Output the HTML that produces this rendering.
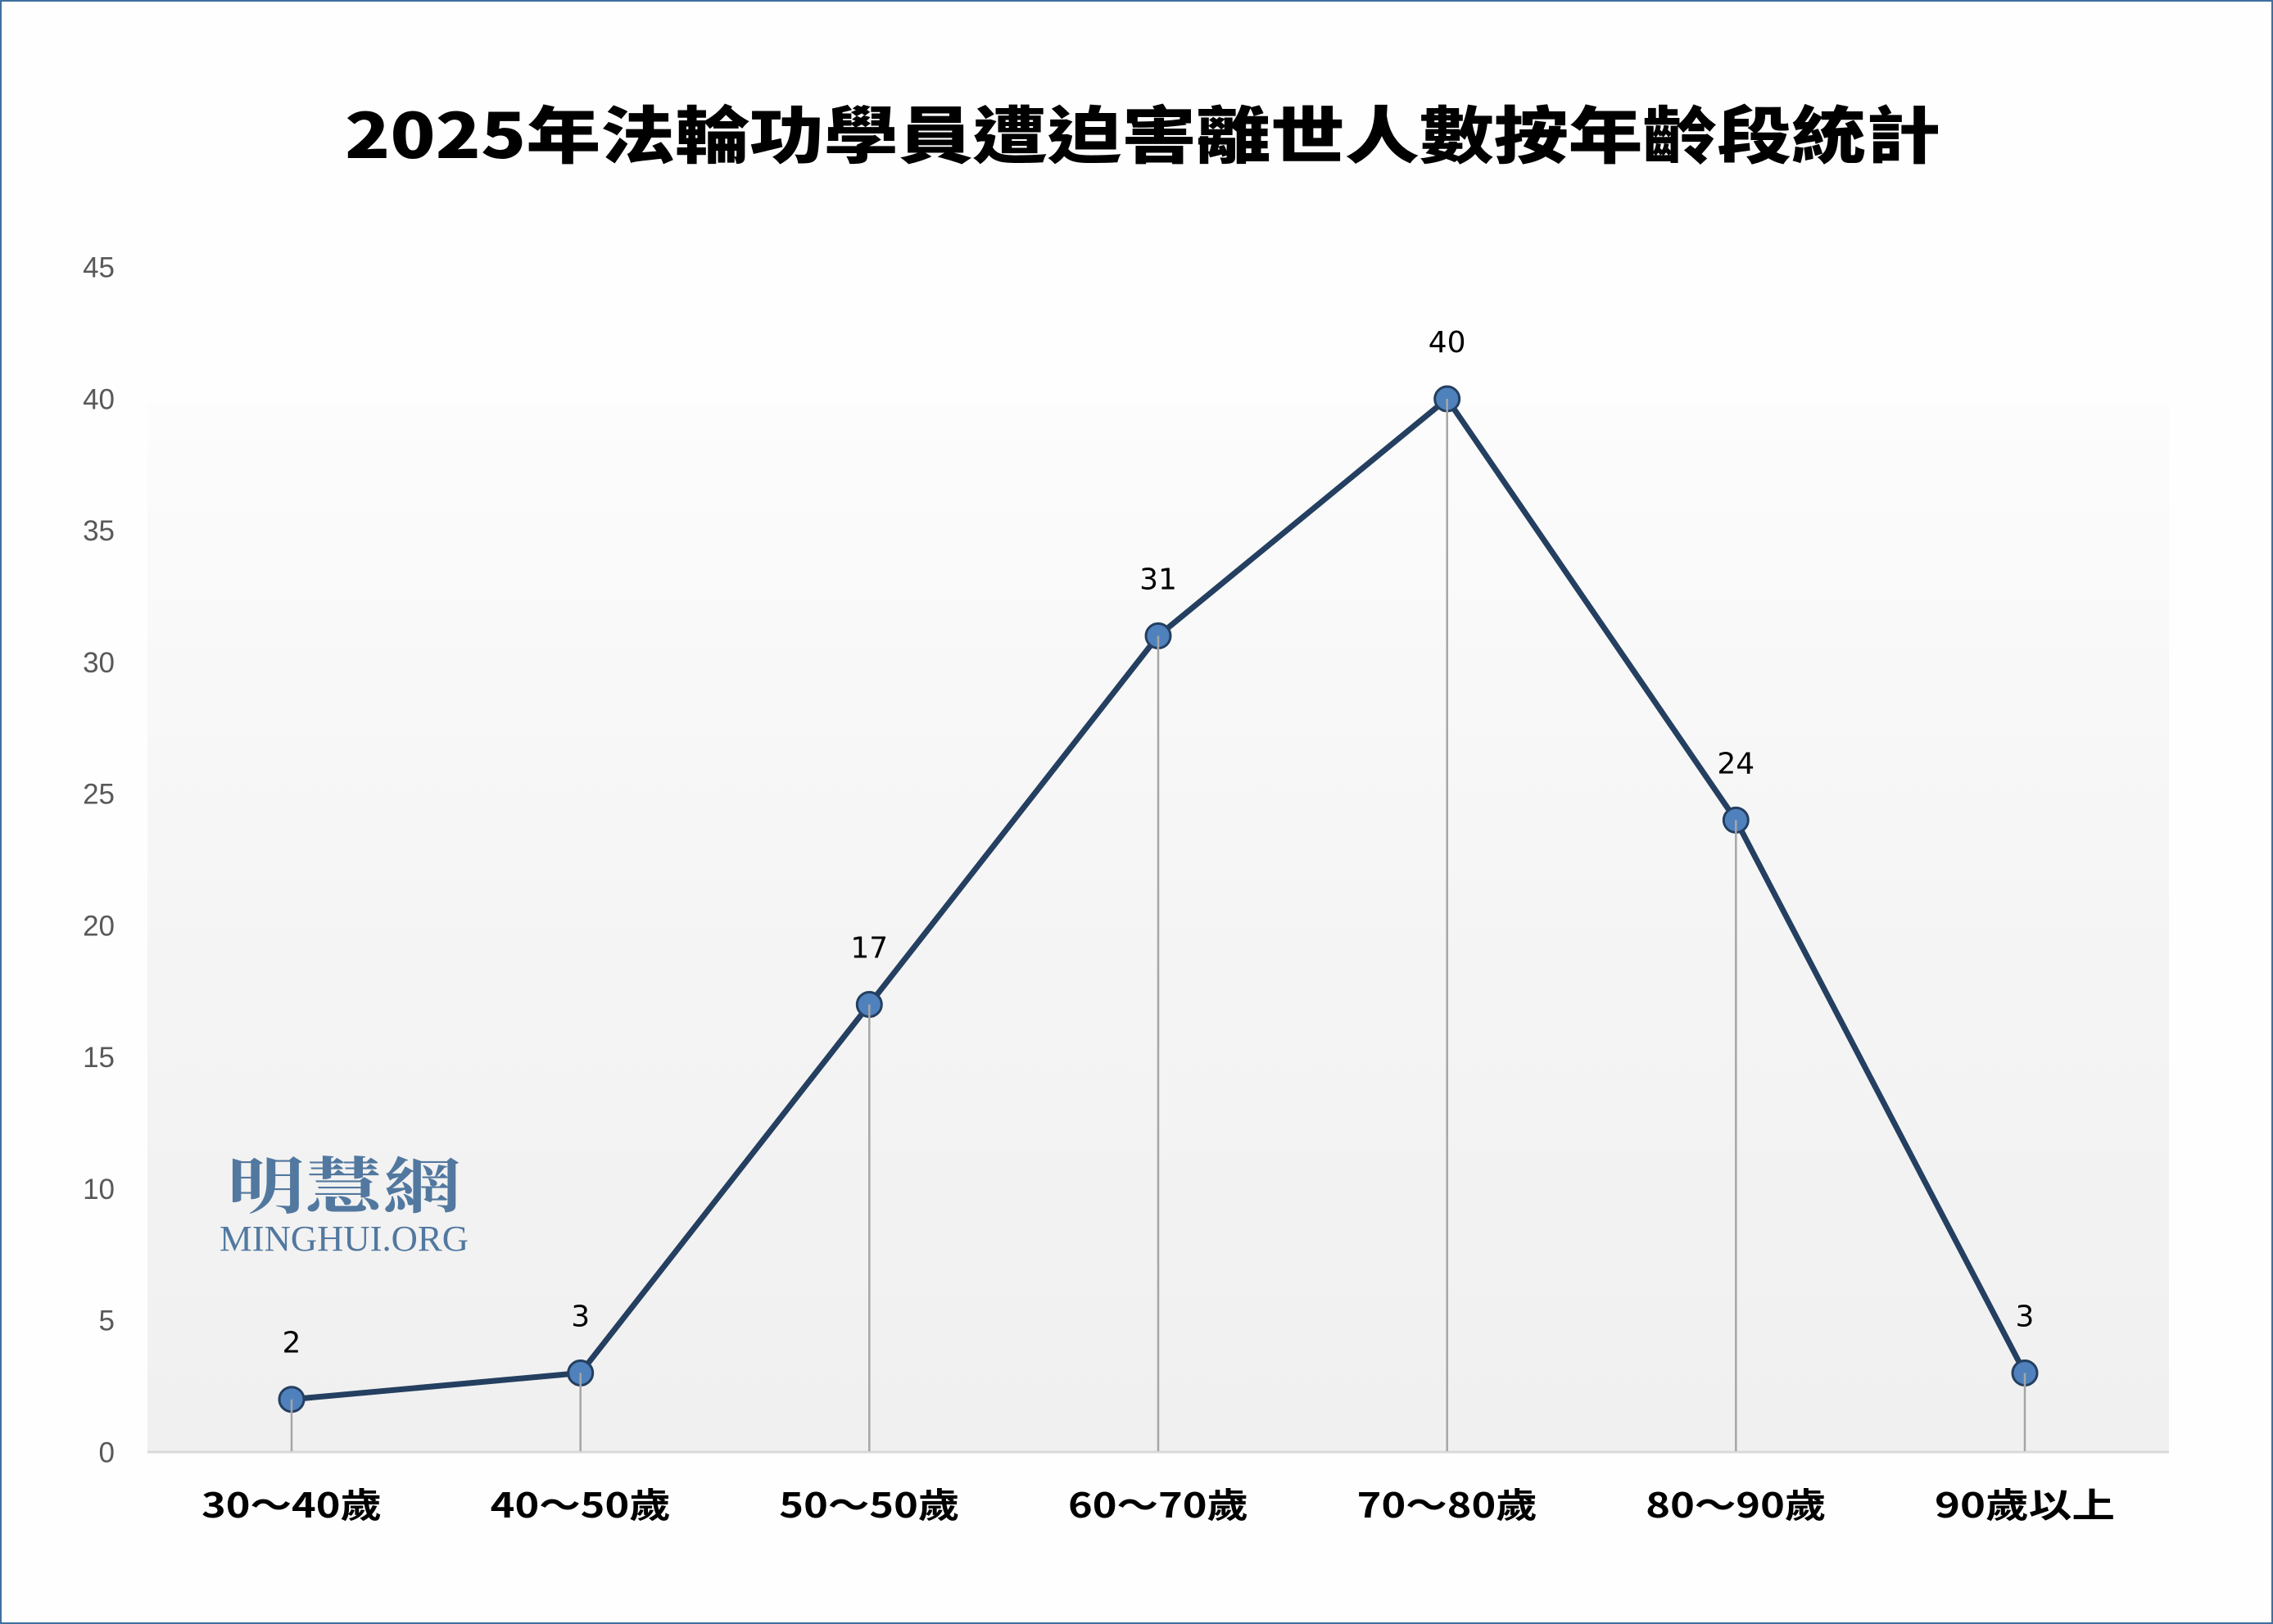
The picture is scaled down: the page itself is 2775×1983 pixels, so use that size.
<!DOCTYPE html>
<html>
<head>
<meta charset="utf-8">
<style>
  html,body{margin:0;padding:0;background:#fff;}
  body{width:2775px;height:1983px;overflow:hidden;}
  svg{display:block;}
</style>
</head>
<body>
<svg width="2775" height="1983" viewBox="0 0 2775 1983" xmlns="http://www.w3.org/2000/svg">
  <defs>
    <linearGradient id="pg" x1="0" y1="0" x2="0" y2="1">
      <stop offset="0" stop-color="#fcfcfc"/>
      <stop offset="0.55" stop-color="#f4f4f4"/>
      <stop offset="1" stop-color="#f0f0f0"/>
    </linearGradient>
  </defs>
  <!-- background + border -->
  <rect x="0" y="0" width="2775" height="1983" fill="#fefefe"/>
  <rect x="1" y="1" width="2773" height="1981" fill="none" stroke="#3f6f9f" stroke-width="2"/>

  <!-- title -->
  <text x="421" y="193" font-family="'Noto Sans CJK TC','Noto Sans CJK SC',sans-serif" font-weight="900" font-size="76" fill="#000" textLength="1948" lengthAdjust="spacingAndGlyphs">2025年法輪功學員遭迫害離世人數按年齡段統計</text>

  <!-- plot area gradient -->
  <rect x="180" y="492" width="2468" height="1281" fill="url(#pg)"/>

  <!-- y axis labels -->
  <g font-family="'Liberation Sans',sans-serif" font-size="35" fill="#595959" text-anchor="end">
    <text x="140" y="1785.5">0</text>
    <text x="140" y="1624.7">5</text>
    <text x="140" y="1464">10</text>
    <text x="140" y="1303.2">15</text>
    <text x="140" y="1142.5">20</text>
    <text x="140" y="981.7">25</text>
    <text x="140" y="821">30</text>
    <text x="140" y="660.2">35</text>
    <text x="140" y="499.5">40</text>
    <text x="140" y="338.7">45</text>
  </g>

  <!-- watermark -->
  <text x="277" y="1475" font-family="'Noto Serif CJK SC','Noto Serif CJK TC',serif" font-weight="700" font-size="75" fill="#52789f" textLength="286" lengthAdjust="spacingAndGlyphs">明慧網</text>
  <text x="268" y="1527" font-family="'Liberation Serif',serif" font-size="44" fill="#52789f" textLength="304" lengthAdjust="spacingAndGlyphs">MINGHUI.ORG</text>

  <!-- x axis line -->
  <line x1="180" y1="1773" x2="2648" y2="1773" stroke="#d9d9d9" stroke-width="3"/>

  <!-- series line -->
  <polyline points="356,1708.7 708.7,1676.5 1061.3,1226.5 1414,776.4 1766.7,487 2119.3,1001.4 2472,1676.5" fill="none" stroke="#243f60" stroke-width="7" stroke-linejoin="round" stroke-linecap="round"/>

  <!-- markers -->
  <g fill="#4f81bd" stroke="#243f60" stroke-width="3">
    <circle cx="356" cy="1708.7" r="15"/>
    <circle cx="708.7" cy="1676.5" r="15"/>
    <circle cx="1061.3" cy="1226.5" r="15"/>
    <circle cx="1414" cy="776.4" r="15"/>
    <circle cx="1766.7" cy="487" r="15"/>
    <circle cx="2119.3" cy="1001.4" r="15"/>
    <circle cx="2472" cy="1676.5" r="15"/>
  </g>

  <!-- drop lines -->
  <g stroke="#a6a6a6" stroke-width="2.5">
    <line x1="356" y1="1708.7" x2="356" y2="1772"/>
    <line x1="708.7" y1="1676.5" x2="708.7" y2="1772"/>
    <line x1="1061.3" y1="1226.5" x2="1061.3" y2="1772"/>
    <line x1="1414" y1="776.4" x2="1414" y2="1772"/>
    <line x1="1766.7" y1="487" x2="1766.7" y2="1772"/>
    <line x1="2119.3" y1="1001.4" x2="2119.3" y2="1772"/>
    <line x1="2472" y1="1676.5" x2="2472" y2="1772"/>
  </g>

  <!-- data labels -->
  <g font-family="'DejaVu Sans',sans-serif" font-size="36" fill="#000" text-anchor="middle">
    <text x="356" y="1651.7">2</text>
    <text x="708.7" y="1619.5">3</text>
    <text x="1061.3" y="1169.5">17</text>
    <text x="1414" y="719.4">31</text>
    <text x="1766.7" y="430">40</text>
    <text x="2119.3" y="944.4">24</text>
    <text x="2472" y="1619.5">3</text>
  </g>

  <!-- x axis labels -->
  <g font-family="'Noto Sans CJK TC','Noto Sans CJK SC',sans-serif" font-weight="700" font-size="42" fill="#000">
    <text x="246" y="1853" textLength="220" lengthAdjust="spacingAndGlyphs">30～40歲</text>
    <text x="598.7" y="1853" textLength="220" lengthAdjust="spacingAndGlyphs">40～50歲</text>
    <text x="951.3" y="1853" textLength="220" lengthAdjust="spacingAndGlyphs">50～50歲</text>
    <text x="1304" y="1853" textLength="220" lengthAdjust="spacingAndGlyphs">60～70歲</text>
    <text x="1656.7" y="1853" textLength="220" lengthAdjust="spacingAndGlyphs">70～80歲</text>
    <text x="2009.3" y="1853" textLength="220" lengthAdjust="spacingAndGlyphs">80～90歲</text>
    <text x="2362" y="1853" textLength="220" lengthAdjust="spacingAndGlyphs">90歲以上</text>
  </g>
</svg>
</body>
</html>
